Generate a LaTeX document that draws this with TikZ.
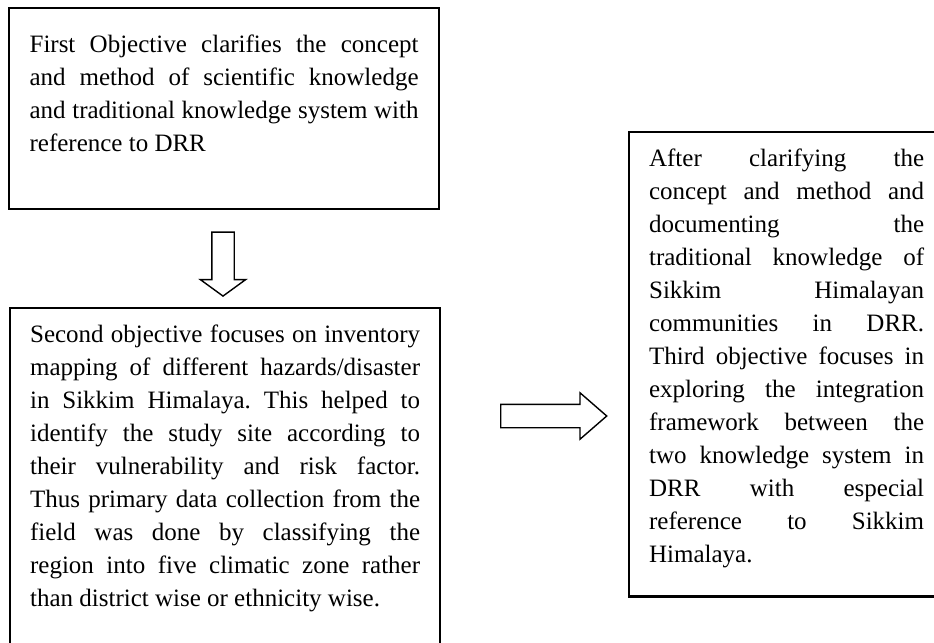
\documentclass[tikz,border=0pt]{standalone}
\usepackage{fontspec}
\setmainfont{Liberation Serif}
\usetikzlibrary{shapes.arrows}
\hbadness=10000
\frenchspacing

\begin{document}
\begin{tikzpicture}[x=0.5pt,y=-0.5pt,
        objbox/.style={draw=black,line width=1.1pt,anchor=north west,inner xsep=10pt,inner ysep=0pt,
          align=justify,font=\fontsize{12.5pt}{16.5pt}\selectfont},
        blockarrow/.style={single arrow,draw=black,line width=0.7pt,inner xsep=0pt,single arrow head extend=5.75pt}]
      \clip (0,0) rectangle (934,643);
      \node [objbox,text width=194.5pt,inner xsep=10.25pt] (first) at (8,7)
        {\rule{0pt}{22.35pt}First Objective clarifies the concept\linebreak
         and method of scientific knowledge\linebreak
         and traditional knowledge system with\linebreak
         reference to DRR\rule[-28.5pt]{0pt}{1pt}};
      \node [objbox,text width=195pt] (second) at (9,307)
        {\rule{0pt}{17.35pt}Second objective focuses on inventory\linebreak
         mapping of different hazards/disaster\linebreak
         in Sikkim Himalaya. This helped to\linebreak
         identify the study site according to\linebreak
         their vulnerability and risk factor.\linebreak
         Thus primary data collection from the\linebreak
         field was done by classifying the\linebreak
         region into five climatic zone rather\linebreak
         than district wise or ethnicity wise.\rule[-27pt]{0pt}{1pt}};
      \node [objbox,text width=137.5pt] (third) at (628,131)
        {\rule{0pt}{17pt}After clarifying the\linebreak
         concept and method and\linebreak
         documenting the\linebreak
         traditional knowledge of\linebreak
         Sikkim Himalayan\linebreak
         communities in DRR.\linebreak
         Third objective focuses in\linebreak
         exploring the integration\linebreak
         framework between the\linebreak
         two knowledge system in\linebreak
         DRR with especial\linebreak
         reference to Sikkim\linebreak
         Himalaya.\rule[-17.15pt]{0pt}{1pt}};
      % block arrows between the objectives
      \node [blockarrow,rotate=-90,minimum height=32pt,inner ysep=5.25pt,single arrow tip angle=108] (dn) at (223,260) {};
      \node [blockarrow,minimum height=53pt,inner ysep=5.5pt,single arrow tip angle=82] (rt) at (547,416) {};
    \end{tikzpicture}
\end{document}
